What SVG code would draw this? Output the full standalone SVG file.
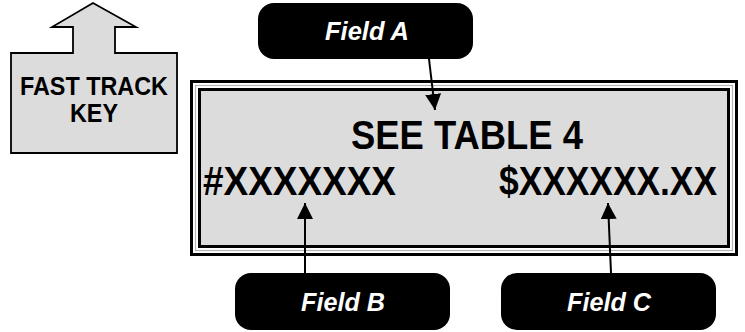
<svg xmlns="http://www.w3.org/2000/svg" width="745" height="332" viewBox="0 0 745 332">
<style>
.lbl{font-family:"Liberation Sans",Arial,sans-serif;font-weight:bold;font-style:italic;font-size:26px;fill:#fff;text-anchor:middle}
.big{font-family:"Liberation Sans",Arial,sans-serif;font-weight:bold;font-size:40px;fill:#000}
.key{font-family:"Liberation Sans",Arial,sans-serif;font-weight:bold;font-size:25px;fill:#000;text-anchor:middle}
.pill{fill:#000}
.conn{stroke:#000;stroke-width:2;fill:none}
</style>
<defs>
<marker id="ah" markerUnits="userSpaceOnUse" markerWidth="18" markerHeight="18" refX="16" refY="8" orient="auto">
<path d="M0,0 L16,8 L0,16 Z" fill="#000"/>
</marker>
</defs>
<rect width="745" height="332" fill="#fff"/>
<g id="fast-track-key">
<path d="M93,3 L136,27 L115,27 L115,53 L177,53 L177,153 L11,153 L11,53 L73,53 L73,27 L52,27 Z" fill="#dcdcdc" stroke="#000" stroke-width="1.8" stroke-linejoin="miter"/>
<text class="key" x="94" y="95" textLength="148" lengthAdjust="spacingAndGlyphs">FAST TRACK</text>
<text class="key" x="94" y="122" textLength="48" lengthAdjust="spacingAndGlyphs">KEY</text>
</g>
<g id="display">
<rect x="191.5" y="81.5" width="545" height="173" fill="#fff" stroke="#000" stroke-width="3"/>
<rect x="195.5" y="85.5" width="537" height="165" fill="none" stroke="#b4b4b4" stroke-width="1.2"/>
<rect x="199.5" y="89.5" width="529" height="157" fill="#dcdcdc" stroke="#000" stroke-width="3"/>
<text class="big" x="467" y="149" text-anchor="middle" textLength="232" lengthAdjust="spacingAndGlyphs">SEE TABLE 4</text>
<text class="big" x="203" y="195" textLength="193" lengthAdjust="spacingAndGlyphs">#XXXXXXX</text>
<text class="big" x="499" y="195" textLength="218" lengthAdjust="spacingAndGlyphs">$XXXXXX.XX</text>
</g>
<g id="field-a">
<rect class="pill" x="258" y="3" width="215" height="56" rx="16"/>
<text class="lbl" x="367" y="40" textLength="84" lengthAdjust="spacingAndGlyphs">Field A</text>
</g>
<g id="field-b">
<rect class="pill" x="235" y="273" width="215" height="57" rx="16"/>
<text class="lbl" x="343" y="311" textLength="84" lengthAdjust="spacingAndGlyphs">Field B</text>
</g>
<g id="field-c">
<rect class="pill" x="501" y="273" width="215" height="57" rx="16"/>
<text class="lbl" x="609" y="311" textLength="84" lengthAdjust="spacingAndGlyphs">Field C</text>
</g>
<g id="connectors">
<path class="conn" d="M429,59 L435,110" marker-end="url(#ah)"/>
<path class="conn" d="M305,273 L305,203" marker-end="url(#ah)"/>
<path class="conn" d="M611,273 L608,203" marker-end="url(#ah)"/>
</g>
</svg>
